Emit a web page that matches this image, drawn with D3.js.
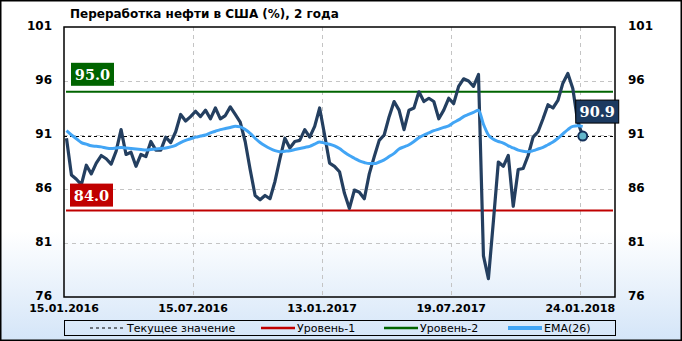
<!DOCTYPE html>
<html>
<head>
<meta charset="utf-8">
<script src="https://cdn.jsdelivr.net/npm/d3@7"></script>
<style>
  body { margin: 0; padding: 0; }
  svg { display: block; }
</style>
</head>
<body>
<div class="canvas"></div>
<script>
// Chart dimensions
const dims = {width: 682, height: 341};
const plot = {left: 64, right: 615, top: 27, bottom: 297};

// tick labels along the bottom (every 26th week)
const dateLabels = ['15.01.2016', '15.07.2016', '13.01.2017', '19.07.2017', '24.01.2018'];
const dateIndex = [0, 26, 52, 78, 104];
const yTicks = [76, 81, 86, 91, 96, 101];

// weekly refinery utilisation, %
const values = [
  90.7, 87.3, 86.9, 86.4, 88.2, 87.4, 88.4, 89.1, 88.8, 88.3,
  89.5, 91.5, 89.2, 89.4, 88.1, 89.2, 89.0, 90.4, 89.6, 89.6,
  90.8, 90.3, 91.3, 92.9, 92.3, 92.7, 93.2, 92.7, 93.3, 92.5,
  93.5, 92.5, 92.8, 93.6, 92.9, 92.2, 90.4, 87.8, 85.4, 85.0,
  85.4, 85.1, 86.7, 88.8, 90.7, 89.8, 90.4, 90.5, 91.5, 90.8,
  91.8, 93.5, 91.0, 88.4, 88.1, 87.6, 85.6, 84.2, 85.9, 85.7,
  85.1, 87.4, 89.0, 90.5, 91.0, 92.7, 94.1, 93.3, 91.5, 93.3,
  93.5, 95.0, 94.1, 94.4, 94.1, 92.5, 93.3, 94.4, 93.9, 95.5,
  96.2, 96.0, 95.5, 96.6, 79.8, 77.7, 83.0, 88.5, 88.1, 89.1,
  84.4, 87.8, 87.9, 89.1, 90.8, 91.3, 92.5, 93.8, 93.5, 94.2,
  95.8, 96.7, 95.3, 92.2, 90.9
];

// EMA(26)
const ema = [
  91.4, 91.0, 90.65, 90.3, 90.15, 90.0, 89.95, 89.9, 89.8, 89.75,
  89.8, 89.85, 89.8, 89.75, 89.7, 89.65, 89.6, 89.65, 89.7, 89.75,
  89.8, 89.9, 90.05, 90.3, 90.5, 90.65, 90.8, 90.9, 91.0, 91.2,
  91.35, 91.5, 91.6, 91.7, 91.8, 91.75, 91.5, 91.15, 90.7, 90.3,
  90.0, 89.75, 89.55, 89.45, 89.5, 89.55, 89.65, 89.75, 89.85, 89.95,
  90.15, 90.35, 90.25, 90.15, 90.0, 89.75, 89.4, 89.1, 88.85, 88.6,
  88.45, 88.35, 88.35, 88.5, 88.7, 89.0, 89.3, 89.7, 89.9, 90.1,
  90.4, 90.75, 91.0, 91.2, 91.4, 91.55, 91.7, 91.85, 92.15, 92.4,
  92.7, 92.9, 93.1, 93.3, 92.0, 91.0, 90.6, 90.4, 90.25, 90.0,
  89.8, 89.6, 89.5, 89.45, 89.55, 89.7, 89.85, 90.1, 90.35, 90.7,
  91.1, 91.5, 91.8, 91.85, 91.8
];

const level1 = 84.0;
const level2 = 95.0;
const current = values[values.length - 1];

const legendItems = [
  {name: 'Текущее значение', color: '#000', width: 1, dash: '3,3'},
  {name: 'Уровень-1', color: '#c00000', width: 2.5, dash: null},
  {name: 'Уровень-2', color: '#006400', width: 2.5, dash: null},
  {name: 'EMA(26)', color: '#42a5f5', width: 4, dash: null}
];

const svg = d3.select('.canvas')
  .append('svg')
  .attr('width', dims.width)
  .attr('height', dims.height);

// background gradient
const grad = svg.append('defs').append('linearGradient')
  .attr('id', 'bg')
  .attr('x1', 0).attr('y1', 0).attr('x2', 0).attr('y2', 1);
grad.append('stop').attr('offset', '0%').attr('stop-color', '#ffffff');
grad.append('stop').attr('offset', '68%').attr('stop-color', '#ffffff');
grad.append('stop').attr('offset', '100%').attr('stop-color', '#d4e5f8');

svg.append('rect')
  .attr('x', 0.75).attr('y', 0.75)
  .attr('width', dims.width - 1.5).attr('height', dims.height - 1.5)
  .attr('fill', 'url(#bg)')
  .attr('stroke', '#000')
  .attr('stroke-width', 1.5);

// scales
const x = d3.scaleBand()
  .domain(d3.range(111))
  .range([plot.left, plot.right]);
const cx = i => x(i) + x.bandwidth() / 2;

const y = d3.scaleLinear()
  .domain([76, 101])
  .range([plot.bottom, plot.top]);

// grid lines
const grid = svg.append('g');
grid.selectAll('.hg')
  .data(yTicks.filter(t => t > 76 && t < 101))
  .enter().append('line')
  .attr('x1', plot.left).attr('x2', plot.right)
  .attr('y1', d => Math.round(y(d)) + 0.5).attr('y2', d => Math.round(y(d)) + 0.5)
  .attr('stroke', '#c4c4c4')
  .attr('stroke-dasharray', '4,4');
grid.selectAll('.vg')
  .data(dateIndex.slice(1))
  .enter().append('line')
  .attr('x1', d => Math.round(x(d)) + 0.5).attr('x2', d => Math.round(x(d)) + 0.5)
  .attr('y1', plot.top).attr('y2', plot.bottom)
  .attr('stroke', '#c4c4c4')
  .attr('stroke-dasharray', '4,4');

// axes
const fontAxis = '"DejaVu Sans", Verdana, sans-serif';

const yLeft = svg.append('g')
  .attr('transform', `translate(${plot.left - 12}, -1)`)
  .call(d3.axisLeft(y).tickValues(yTicks).tickSize(0).tickPadding(0));
const yRight = svg.append('g')
  .attr('transform', `translate(${plot.right + 13}, -1)`)
  .call(d3.axisRight(y).tickValues(yTicks).tickSize(0).tickPadding(0));
const xAxis = svg.append('g')
  .attr('transform', `translate(0, ${plot.bottom + 7})`)
  .call(d3.axisBottom(x).tickValues(dateIndex).tickSize(0).tickPadding(0)
    .tickFormat((d, i) => dateLabels[i]));
xAxis.selectAll('.tick').attr('transform', d => `translate(${x(d)}, 0)`);

[yLeft, yRight, xAxis].forEach(g => {
  g.select('.domain').remove();
  g.selectAll('text')
    .attr('fill', '#000')
    .style('font-family', fontAxis)
    .style('font-weight', 'bold');
});
yLeft.selectAll('text').style('font-size', '12px');
yRight.selectAll('text').style('font-size', '12px');
xAxis.selectAll('text').style('font-size', '11px');

// level lines
const levelLine = (val, color) => svg.append('line')
  .attr('x1', plot.left + 2).attr('x2', plot.right - 2)
  .attr('y1', y(val)).attr('y2', y(val))
  .attr('stroke', color)
  .attr('stroke-width', 2);
levelLine(level2, '#006400');
levelLine(level1, '#c00000');

// current value dashed line
svg.append('line')
  .attr('x1', plot.left).attr('x2', plot.right)
  .attr('y1', Math.round(y(current)) + 0.5).attr('y2', Math.round(y(current)) + 0.5)
  .attr('stroke', '#000')
  .attr('stroke-width', 1)
  .attr('stroke-dasharray', '3,3');

// data line
const line = d3.line()
  .x((d, i) => cx(i))
  .y(d => y(d));

svg.append('path')
  .datum(values)
  .attr('d', line)
  .attr('fill', 'none')
  .attr('stroke', '#243f60')
  .attr('stroke-width', 3.2)
  .attr('stroke-linejoin', 'round');

// EMA line
svg.append('path')
  .datum(ema)
  .attr('d', d3.line().curve(d3.curveMonotoneX).x((d, i) => cx(i)).y(d => y(d)))
  .attr('fill', 'none')
  .attr('stroke', '#42a5f5')
  .attr('stroke-width', 3)
  .attr('stroke-linejoin', 'round');

// plot frame
svg.append('rect')
  .attr('x', plot.left).attr('y', plot.top)
  .attr('width', plot.right - plot.left).attr('height', plot.bottom - plot.top)
  .attr('fill', 'none')
  .attr('stroke', '#000')
  .attr('stroke-width', 1.5);

// value badges
const fontBadge = '"DejaVu Serif", "Liberation Serif", serif';
const badge = (bx, by, text, fill, stroke) => {
  const g = svg.append('g');
  g.append('rect')
    .attr('x', bx).attr('y', by)
    .attr('width', 43).attr('height', 23)
    .attr('fill', fill)
    .attr('stroke', stroke || 'none')
    .attr('stroke-width', 1);
  g.append('text')
    .attr('x', bx + 21.5).attr('y', by + 17)
    .attr('text-anchor', 'middle')
    .attr('fill', '#fff')
    .style('font-family', fontBadge)
    .style('font-weight', 'bold')
    .style('font-size', '14.5px')
    .text(text);
};
badge(plot.left + 7, y(level2) - 29, level2.toFixed(1), '#006400');
badge(plot.left + 6, y(level1) - 27, level1.toFixed(1), '#c00000');

const lastI = values.length - 1;
badge(cx(lastI) - 7, y(current) - 36, current.toFixed(1), '#1c3a60', '#000');

svg.append('circle')
  .attr('cx', cx(lastI))
  .attr('cy', y(current))
  .attr('r', 4.5)
  .attr('fill', '#63b7cc')
  .attr('stroke', '#13305a')
  .attr('stroke-width', 2);

// title
svg.append('text')
  .attr('x', 70).attr('y', 18)
  .style('font-family', fontAxis)
  .style('font-weight', 'bold')
  .style('font-size', '12px')
  .text('Переработка нефти в США (%), 2 года');

// legend
const legend = svg.append('g');
legend.append('rect')
  .attr('x', plot.left + 0.5).attr('y', 320.5)
  .attr('width', plot.right - plot.left).attr('height', 15)
  .attr('fill', 'none')
  .attr('stroke', '#000')
  .attr('stroke-width', 1);

const legendX = [90, 261, 384, 508];
const items = legend.selectAll('.item')
  .data(legendItems)
  .enter().append('g')
  .attr('transform', (d, i) => `translate(${legendX[i]}, 328)`);
items.append('line')
  .attr('x1', 0).attr('x2', 34)
  .attr('stroke', d => d.color)
  .attr('stroke-width', d => d.width)
  .attr('stroke-dasharray', d => d.dash);
items.append('text')
  .attr('x', (d, i) => i === 0 ? 37 : 36)
  .attr('y', 4)
  .style('font-family', fontAxis)
  .style('font-size', '11px')
  .text(d => d.name);
</script>
</body>
</html>
